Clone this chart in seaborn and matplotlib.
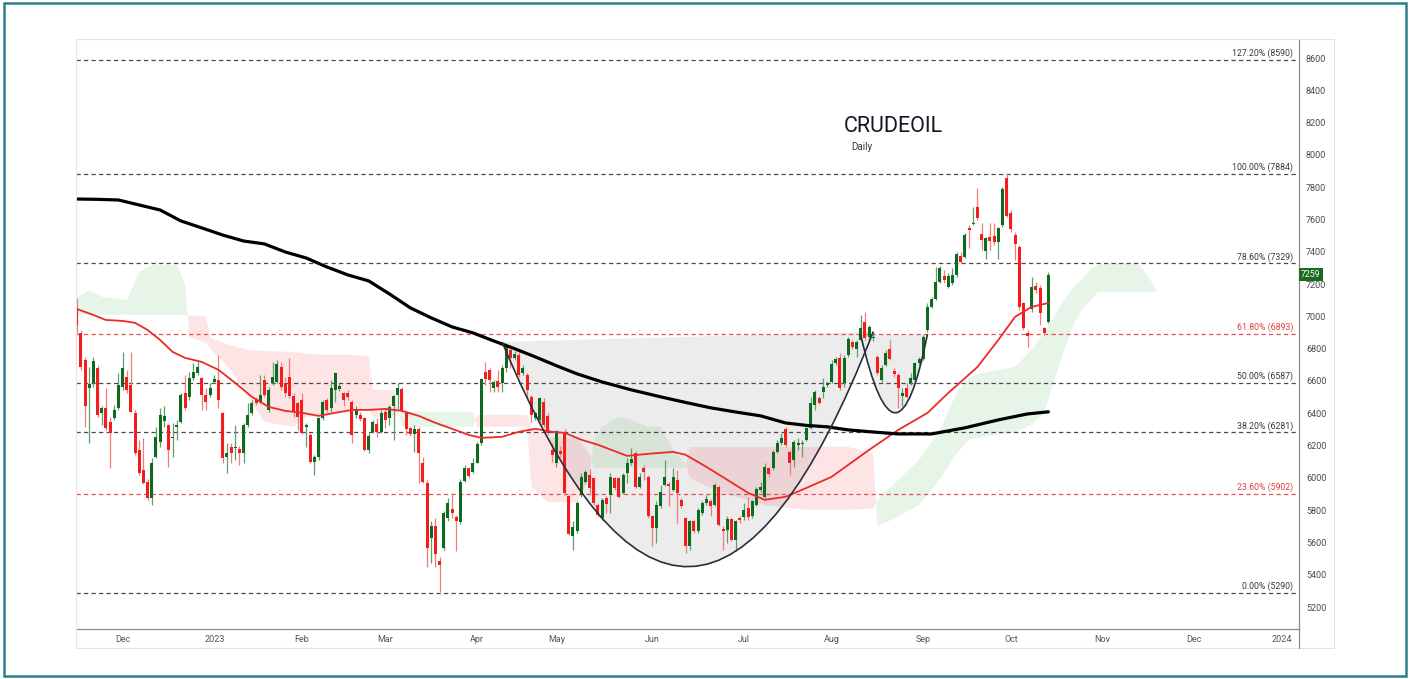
import numpy as np
import pandas as pd
import matplotlib
matplotlib.use("Agg")
import matplotlib.pyplot as plt
from matplotlib.path import Path
from matplotlib.patches import PathPatch, Rectangle
from matplotlib.lines import Line2D
import seaborn as sns

# ---------------- data ----------------
first_day = "2022-11-16"
last_day = "2023-10-13"
holidays = ["2023-01-26", "2023-03-07", "2023-04-07", "2023-08-15"]

opens = [7051, 6896, 6731, 6555, 6586, 6679, 6401, 6432, 6349, 6370,
         6432, 6565, 6623, 6576, 6401, 6174, 6050, 5977, 5874, 6132,
         6225, 6355, 6328, 6246, 6314, 6349, 6524, 6503, 6617, 6648,
         6617, 6514, 6514, 6596, 6607, 6401, 6132, 6194, 6184, 6178,
         6153, 6328, 6401, 6483, 6472, 6607, 6421, 6586, 6596, 6689,
         6586, 6623, 6508, 6462, 6483, 6318, 6266, 6101, 6132, 6370,
         6483, 6432, 6545, 6549, 6528, 6528, 6472, 6390, 6390, 6370,
         6174, 6287, 6335, 6287, 6411, 6370, 6442, 6514, 6549, 6404,
         6308, 6272, 6302, 6095, 5971, 5627, 5703, 5488, 5565, 5751,
         5806, 5757, 5724, 5983, 6060, 6039, 6095, 6215, 6658, 6669,
         6555, 6603, 6586, 6679, 6793, 6741, 6762, 6652, 6638, 6503,
         6370, 6359, 6472, 6384, 6174, 6091, 6169, 6277, 5889, 5641,
         5668, 5895, 5977, 6019, 5998, 5833, 5751, 5874, 5895, 5998,
         5998, 5909, 6029, 6091, 6153, 5946, 6060, 6008, 5761, 5689,
         5823, 5957, 5963, 5926, 5988, 5864, 5751, 5575, 5730, 5668,
         5785, 5844, 5854, 5833, 5943, 5683, 5678, 5744, 5616, 5751,
         5757, 5813, 5761, 5833, 5926, 5884, 6060, 6060, 6163, 6215,
         6302, 6163, 6112, 6204, 6211, 6235, 6308, 6452, 6493, 6534,
         6576, 6596, 6710, 6741, 6586, 6762, 6844, 6797, 6855, 6968,
         6875, 6865, 6747, 6607, 6700, 6797, 6664, 6638, 6508, 6555,
         6586, 6607, 6710, 6735, 6916, 7061, 7106, 7215, 7251, 7184,
         7205, 7257, 7374, 7370, 7546, 7572, 7676, 7511, 7407, 7490,
         7498, 7463, 7566, 7855, 7642, 7504, 7428, 7082, 6900, 7044,
         7189, 7174, 6927, 6968]
highs = [7112, 6916, 6751, 6689, 6751, 6700, 6442, 6555, 6380, 6452,
         6648, 6782, 6669, 6782, 6420, 6236, 6246, 5990, 6122, 6318,
         6432, 6442, 6335, 6339, 6359, 6524, 6638, 6658, 6710, 6720,
         6625, 6555, 6586, 6638, 6762, 6410, 6215, 6215, 6328, 6200,
         6339, 6462, 6483, 6500, 6638, 6638, 6565, 6720, 6731, 6720,
         6627, 6741, 6524, 6470, 6524, 6339, 6277, 6143, 6380, 6483,
         6495, 6607, 6658, 6585, 6534, 6545, 6480, 6446, 6405, 6380,
         6277, 6360, 6370, 6420, 6432, 6452, 6515, 6586, 6560, 6415,
         6318, 6328, 6318, 6132, 5988, 5730, 5751, 5513, 5792, 5874,
         5905, 5770, 5990, 6081, 6068, 6122, 6225, 6620, 6720, 6680,
         6607, 6669, 6700, 6834, 6824, 6785, 6782, 6700, 6650, 6515,
         6410, 6503, 6493, 6400, 6215, 6297, 6200, 6300, 5900, 5730,
         5855, 6029, 6050, 6054, 6005, 5845, 5875, 5885, 6029, 6005,
         6005, 6030, 6122, 6184, 6165, 6030, 6081, 6020, 5770, 5854,
         5957, 6112, 5975, 6060, 6050, 5875, 5760, 5740, 5740, 5813,
         5854, 5895, 5870, 5967, 5957, 5700, 5761, 5750, 5740, 5762,
         5844, 5884, 5865, 5946, 5977, 6091, 6070, 6174, 6236, 6277,
         6318, 6175, 6235, 6246, 6235, 6318, 6503, 6545, 6505, 6617,
         6600, 6731, 6751, 6772, 6762, 6875, 6855, 6855, 7009, 7030,
         6947, 6910, 6762, 6700, 6793, 6855, 6679, 6650, 6555, 6586,
         6648, 6720, 6750, 6885, 7082, 7123, 7308, 7313, 7288, 7267,
         7298, 7401, 7401, 7515, 7566, 7680, 7793, 7577, 7494, 7577,
         7577, 7556, 7803, 7886, 7659, 7525, 7442, 7092, 6916, 7243,
         7215, 7195, 6935, 7277]
lows = [6896, 6669, 6318, 6215, 6565, 6380, 6328, 6297, 6060, 6359,
        6421, 6545, 6524, 6405, 6140, 6019, 5960, 5860, 5833, 6125,
        6194, 6318, 6070, 6132, 6235, 6339, 6421, 6483, 6607, 6638,
        6421, 6421, 6500, 6590, 6432, 6091, 6029, 6091, 6112, 6081,
        6091, 6318, 6390, 6450, 6462, 6503, 6411, 6576, 6590, 6545,
        6503, 6493, 6380, 6297, 6270, 6194, 6091, 6019, 6112, 6360,
        6410, 6411, 6472, 6535, 6442, 6485, 6215, 6370, 6355, 6165,
        6153, 6278, 6256, 6278, 6308, 6328, 6235, 6421, 6410, 6266,
        6262, 6163, 5967, 5967, 5451, 5472, 5451, 5296, 5554, 5730,
        5751, 5544, 5715, 5975, 5998, 6030, 6090, 6205, 6576, 6534,
        6534, 6534, 6534, 6658, 6679, 6730, 6627, 6640, 6503, 6349,
        6360, 6349, 6318, 6265, 6101, 6070, 6130, 5895, 5645, 5554,
        5660, 5884, 5967, 5895, 5835, 5760, 5740, 5782, 5782, 5925,
        5875, 5900, 5967, 6080, 5935, 5935, 5988, 5750, 5575, 5596,
        5815, 5950, 5823, 5920, 5720, 5815, 5534, 5554, 5660, 5660,
        5771, 5835, 5761, 5823, 5699, 5554, 5596, 5606, 5544, 5720,
        5740, 5740, 5750, 5825, 5915, 5875, 6008, 6050, 6155, 6205,
        6194, 6019, 6070, 6174, 6132, 6228, 6300, 6421, 6455, 6493,
        6560, 6585, 6700, 6545, 6565, 6750, 6800, 6751, 6845, 6855,
        6855, 6845, 6638, 6596, 6690, 6730, 6627, 6432, 6442, 6495,
        6575, 6595, 6700, 6730, 6906, 7050, 7100, 7205, 7205, 7174,
        7195, 7246, 7329, 7360, 7422, 7565, 7597, 7411, 7354, 7411,
        7442, 7354, 7555, 7615, 7525, 7350, 7040, 6916, 6813, 7030,
        7143, 6947, 6885, 6960]
closes = [6947, 6689, 6446, 6582, 6726, 6390, 6432, 6308, 6277, 6421,
          6576, 6679, 6545, 6411, 6153, 6029, 5967, 5874, 6091, 6256,
          6390, 6384, 6174, 6256, 6328, 6514, 6432, 6617, 6658, 6689,
          6514, 6472, 6555, 6611, 6483, 6122, 6153, 6153, 6194, 6157,
          6328, 6390, 6462, 6462, 6514, 6514, 6545, 6623, 6706, 6565,
          6524, 6508, 6411, 6380, 6277, 6324, 6101, 6132, 6370, 6472,
          6421, 6555, 6648, 6570, 6483, 6503, 6266, 6425, 6364, 6174,
          6260, 6343, 6281, 6404, 6359, 6438, 6508, 6555, 6421, 6302,
          6272, 6302, 6157, 5977, 5565, 5699, 5530, 5462, 5782, 5844,
          5785, 5730, 5977, 6060, 6013, 6095, 6211, 6611, 6611, 6607,
          6596, 6565, 6679, 6813, 6741, 6768, 6638, 6679, 6545, 6390,
          6401, 6493, 6328, 6277, 6143, 6293, 6149, 5905, 5654, 5695,
          5847, 6008, 6039, 5936, 5844, 5771, 5864, 5839, 6008, 5936,
          5884, 6019, 6091, 6116, 5946, 6008, 6039, 5761, 5689, 5833,
          5915, 6008, 5951, 6008, 5905, 5823, 5575, 5730, 5668, 5802,
          5844, 5868, 5823, 5957, 5709, 5674, 5744, 5616, 5730, 5736,
          5802, 5757, 5854, 5930, 5946, 6070, 6025, 6163, 6215, 6246,
          6204, 6091, 6225, 6215, 6215, 6308, 6462, 6534, 6466, 6565,
          6586, 6706, 6735, 6555, 6741, 6859, 6813, 6844, 6927, 6865,
          6937, 6875, 6648, 6679, 6776, 6735, 6644, 6555, 6524, 6503,
          6617, 6710, 6735, 6875, 7061, 7106, 7215, 7298, 7226, 7251,
          7257, 7387, 7339, 7504, 7535, 7581, 7608, 7473, 7484, 7469,
          7463, 7546, 7787, 7622, 7540, 7449, 7061, 6927, 6879, 7181,
          7164, 7020, 6896, 7259]

# 200-day moving average (black), read at bar numbers
sma_bars = [0, 5, 10, 15, 20, 25, 30, 35, 40, 45, 50, 55, 60, 65, 70, 75, 80, 85,
            90, 95, 100, 105, 110, 115, 120, 126, 133, 140, 146, 152, 158, 164,
            170, 175, 180, 185, 191, 197, 205, 213, 221, 228, 233]
sma_vals = [7727, 7725, 7721, 7690, 7659, 7591, 7548, 7504, 7467, 7449, 7399, 7362,
            7306, 7257, 7220, 7139, 7053, 6991, 6935, 6898, 6848, 6800, 6749, 6695,
            6644, 6594, 6545, 6502, 6467, 6434, 6408, 6384, 6340, 6325, 6316, 6297,
            6284, 6272, 6272, 6310, 6359, 6396, 6409]

# 50-day moving average (red)
ema_bars = [0, 4, 7, 11, 14, 17, 20, 23, 26, 30, 34, 38, 42, 46, 50, 54, 58, 62, 66,
            70, 74, 78, 82, 86, 90, 94, 97, 102, 106, 110, 114, 117, 121, 125, 132,
            137, 143, 146, 151, 156, 161, 165, 170, 175, 181, 190, 197, 204, 209,
            216, 221, 225, 229, 233]
ema_vals = [7046, 7009, 6978, 6972, 6960, 6916, 6854, 6780, 6743, 6718, 6669, 6588,
            6502, 6440, 6415, 6403, 6384, 6403, 6421, 6421, 6427, 6415, 6384, 6341,
            6304, 6266, 6248, 6254, 6285, 6304, 6285, 6279, 6236, 6205, 6136, 6149,
            6161, 6143, 6068, 5988, 5907, 5864, 5883, 5938, 6006, 6173, 6297, 6402,
            6526, 6687, 6854, 6997, 7059, 7083]

# Ichimoku cloud spans (leading span A / B)
cloud_bars = [0, 3, 6, 12, 15, 18, 24, 26, 27, 31, 32, 37, 41, 45, 52, 55, 59, 65,
              70, 71, 76, 78, 95, 96, 108, 109, 113, 120, 123, 124, 126, 130, 133,
              137, 140, 143, 146, 147, 150, 155, 165, 175, 185, 191, 192, 197, 202,
              207, 211, 214, 217, 221, 225, 229, 232, 236, 239, 241, 243, 245, 250,
              255, 259]
span_a = [7114, 7164, 7121, 7102, 7275, 7319, 7319, 7195, 6873, 6836, 6800, 6669,
          6502, 6347, 6316, 6378, 6390, 6421, 6421, 6378, 6378, 6409, 6409, 6316,
          6316, 5945, 5850, 5850, 6000, 6236, 6316, 6378, 6359, 6316, 6316, 6174,
          6093, 6000, 5960, 5907, 5830, 5802, 5802, 5810, 5864, 5988, 6112, 6297,
          6526, 6620, 6650, 6669, 6687, 6793, 6898, 7071, 7182, 7230, 7288, 7319,
          7331, 7319, 7164]
span_b = [7010, 7010, 7010, 7010, 7010, 7010, 7010, 7008, 7006, 7000, 6867, 6820,
          6793, 6785, 6780, 6770, 6762, 6762, 6755, 6545, 6545, 6316, 6316, 6390,
          6390, 6316, 6250, 6250, 6150, 6062, 6062, 6062, 6062, 6062, 6062, 6062,
          6062, 6192, 6192, 6192, 6192, 6192, 6192, 6150, 5700, 5760, 5833, 5990,
          6150, 6236, 6250, 6270, 6279, 6330, 6403, 6731, 6950, 7040, 7100, 7151,
          7151, 7151, 7151]

# cup & handle anchor points (bar number, price): start, bottom, end
cup_bars = [102, 147, 191]
cup_prices = [6842, 5450, 6905]
handle_bars = [188, 196.3, 204]
handle_prices = [6885, 6403, 6890]

# Fibonacci retracement levels
fib_names = ["0.00%", "23.60%", "38.20%", "50.00%", "61.80%", "78.60%", "100.00%", "127.20%"]
fib_values = [5290, 5902, 6281, 6587, 6893, 7329, 7884, 8590]
fib_red = [False, True, False, False, True, False, False, False]

y_ticks = list(range(5200, 8601, 200))
title = "CRUDEOIL"
subtitle = "Daily"
last_price = 7259

# ---------------- figure ----------------
sns.set_theme(style="white")
plt.rcParams["font.family"] = ["Roboto", "DejaVu Sans"]

W, H = 1410, 679
fig = plt.figure(figsize=(W / 100, H / 100), dpi=100)
fig.patch.set_facecolor("white")
L, R, T, B = 76, 1299, 39, 629
ax = fig.add_axes([L / W, 1 - B / H, (R - L) / W, (B - T) / H])
ax.set_facecolor("white")
XMIN, XMAX = -0.17, 293.1

n = len(closes)
bars = np.arange(n)
o = np.array(opens, float)
c = np.array(closes, float)
h = np.array(highs, float)
lo = np.array(lows, float)
up = c >= o

GREEN = "#0d6b1f"
RED = "#f41c1c"
GREEN_W = "#5f9f69"
RED_W = "#f27c7c"

# cup & handle fill
def bez(bx, py):
    p0 = np.array([bx[0], py[0]])
    pm = np.array([bx[1], py[1]])
    p2 = np.array([bx[2], py[2]])
    ctrl = 2 * pm - (p0 + p2) / 2
    return p0, ctrl, p2

for bx, py in [(cup_bars, cup_prices), (handle_bars, handle_prices)]:
    p0, ctrl, p2 = bez(bx, py)
    path = Path([p0, ctrl, p2, p0], [Path.MOVETO, Path.CURVE3, Path.CURVE3, Path.LINETO])
    ax.add_patch(PathPatch(path, facecolor="#ececec", edgecolor="none", zorder=0.5))
    path2 = Path([p0, ctrl, p2], [Path.MOVETO, Path.CURVE3, Path.CURVE3])
    ax.add_patch(PathPatch(path2, facecolor="none", edgecolor="#2b2e38", lw=1.2, zorder=4.5))

# Ichimoku cloud
cb = np.linspace(0, cloud_bars[-1], 1200)
sa = np.interp(cb, cloud_bars, span_a)
sb = np.interp(cb, cloud_bars, span_b)
ax.fill_between(cb, sa, sb, where=sa >= sb, interpolate=True,
                color=(0.30, 0.69, 0.31, 0.13), lw=0, zorder=1)
ax.fill_between(cb, sa, sb, where=sa < sb, interpolate=True,
                color=(0.95, 0.21, 0.27, 0.13), lw=0, zorder=1)

# Fibonacci lines
for name, val, red in zip(fib_names, fib_values, fib_red):
    col = "#e05252" if red else "#4a4a4a"
    ax.axhline(val, color=col, lw=0.9, ls=(0, (3.4, 2.6)), zorder=2)
    ax.annotate(f"{name} ({val})", xy=(0.995, val), xycoords=("axes fraction", "data"),
                xytext=(0, 1.2), textcoords="offset points", ha="right", va="bottom",
                fontsize=6.3, color="#e04040" if red else "#3a3a3a", zorder=6)

# candles
ax.vlines(bars, lo, h, colors=np.where(up, GREEN_W, RED_W), lw=0.9, zorder=3)
body_low = np.minimum(o, c)
body_h = np.maximum(np.abs(c - o), 7)
ax.bar(bars, body_h, bottom=body_low, width=0.72,
       color=np.where(up, GREEN, RED), linewidth=0, zorder=3.5)

# moving averages
sns.lineplot(x=ema_bars, y=ema_vals, ax=ax, color="#ec2a2a", lw=1.3, zorder=4, sort=True)
sns.lineplot(x=sma_bars, y=sma_vals, ax=ax, color="black", lw=2.3, zorder=4.2, sort=True)

# month ticks from trading calendar
dates = pd.bdate_range(first_day, last_day)
dates = dates[~dates.isin(pd.to_datetime(holidays))]
future = pd.bdate_range(pd.Timestamp(last_day) + pd.Timedelta(days=1), "2024-02-15")
all_dates = dates.append(future)
pos, labs = [], []
for i, d in enumerate(all_dates):
    if i == 0 or i > XMAX:
        continue
    if d.month != all_dates[i - 1].month:
        pos.append(i)
        labs.append(str(d.year) if d.month == 1 else d.strftime("%b"))
ax.set_xticks(pos)
ax.set_xticklabels(labs)
for t in ax.get_xticklabels():
    if t.get_text().isdigit():
        t.set_color("#222222")

ax.yaxis.tick_right()
ax.set_yticks(y_ticks)
ax.set_yticklabels([str(v) for v in y_ticks])
ax.set_xlim(XMIN, XMAX)
ax.set_ylim(5064, 8718)
ax.tick_params(axis="y", length=0, pad=5, labelsize=6.5, labelcolor="#4a4a4a")
ax.tick_params(axis="x", length=0, pad=4.5, labelsize=6.5, labelcolor="#555555")
ax.set_xlabel("")
ax.set_ylabel("")
for s in ["left", "top"]:
    ax.spines[s].set_visible(False)
for s in ["right", "bottom"]:
    ax.spines[s].set_color("#8a8a8a")
    ax.spines[s].set_linewidth(0.9)
ax.grid(False)

# last price label
ax.annotate(str(last_price), xy=(1.0, last_price), xycoords=("axes fraction", "data"),
            xytext=(1.5, 0), textcoords="offset points", ha="left", va="center",
            fontsize=6.3, color="white", zorder=10, annotation_clip=False,
            bbox=dict(boxstyle="square,pad=0.25", fc="#1a6b1f", ec="none"))

# titles
fig.text(893 / W, 1 - 127 / H, title, ha="center", va="center", fontsize=15.5, color="#131722")
fig.text(862 / W, 1 - 147 / H, subtitle, ha="center", va="center", fontsize=7, color="#333333")

# frames
fig.add_artist(Rectangle((L / W, 1 - 648 / H), (1334 - L) / W, (648 - T) / H,
                         transform=fig.transFigure, fill=False, ec="#e4e4e4", lw=0.8))
fig.add_artist(Line2D([R / W, R / W], [1 - B / H, 1 - 648 / H], transform=fig.transFigure,
                      color="#8a8a8a", lw=0.9))
fig.add_artist(Rectangle((4 / W, 3 / H), 1402 / W, 673 / H, transform=fig.transFigure,
                         fill=False, ec="#2b7f8e", lw=1.8))

fig.savefig("out.png", dpi=100, facecolor="white")
